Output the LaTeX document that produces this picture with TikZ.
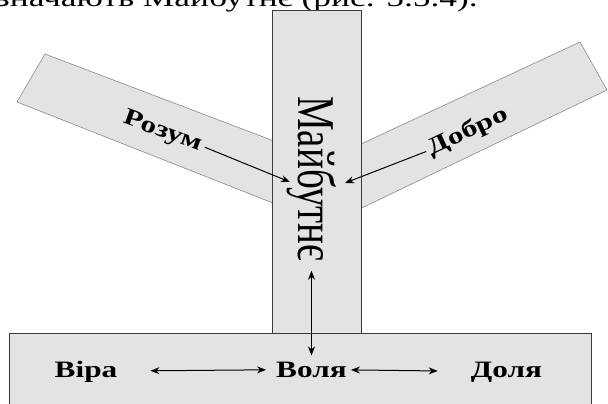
\documentclass[tikz,border=0pt]{standalone}
\usepackage{fontspec}
\setmainfont{Liberation Serif}
\usepackage{xcolor}
\usepackage{tikz}
\usetikzlibrary{arrows.meta}
\usetikzlibrary{positioning}

\definecolor{barfill}{HTML}{E3E3E3}
\definecolor{baredge}{HTML}{3A3A3A}
\definecolor{armedge}{HTML}{8A8A8A}

\begin{document}
\begin{tikzpicture}[
    x=1pt, y=-1pt,
    lbl/.style={font=\fontsize{23.5}{28}\selectfont\bfseries, inner sep=3pt},
    arm/.style={fill=barfill, draw=armedge, line width=0.6pt},
    bar/.style={fill=barfill, draw=baredge, line width=1pt},
    arr/.style={-{Stealth[length=9pt,width=7pt]}, line width=1pt},
    dblarr/.style={{Stealth[length=9pt,width=7pt]}-{Stealth[length=9pt,width=7pt]}, line width=1pt},
  ]

  \useasboundingbox (0,0) rectangle (608,404);
  \clip (0,0) rectangle (608,404);

  % line of text cut off by the crop
  \node[anchor=base east, inner sep=0pt, font=\fontsize{26}{30}\selectfont] (cap) at (478,7)
    {\scalebox{1.36}[1]{визначають Майбутнє (рис. 5.5.4).}};

  % arms behind the post
  \draw[arm] (45,54) -- (17,102) -- (316,220) -- (316,157) -- cycle;
  \draw[arm] (580,42) -- (607,90) -- (316,230) -- (316,165) -- cycle;

  \draw[bar] (272,11) rectangle (361,333);
  \draw[bar] (9,333) rectangle (591,420);

  \node[anchor=base west, rotate=-90, inner sep=0pt, font=\fontsize{39}{45}\selectfont] (maib) at (298,96)
    {\scalebox{1}[1.36]{Майбутнє}};

  \node[lbl, rotate=-20] (rozum) at (163,132) {\scalebox{1.33}[1]{Розум}};
  \node[lbl, rotate=25]  (dobro) at (468,132) {\scalebox{1.33}[1]{Добро}};

  \node[lbl, anchor=base] (vira)  at (86,377)    {\scalebox{1.33}[1]{Віра}};
  \node[lbl, anchor=base] (volya) at (311.5,377) {\scalebox{1.33}[1]{Воля}};
  \node[lbl, anchor=base] (dolya) at (506.5,377) {\scalebox{1.33}[1]{Доля}};

  \coordinate (inL) at (290,182);
  \coordinate (inR) at (345,183);

  \draw[arr] (rozum.east) -- (inL);
  \draw[arr] (dobro.west) -- (inR);

  \draw[dblarr, shorten <=3pt] (volya.north) -- ([yshift=-9pt]volya.north |- maib.east);
  \draw[dblarr, shorten <=30pt, shorten >=7pt] (vira) -- (volya);
  \draw[dblarr, shorten <=1pt, shorten >=30pt] (volya) -- (dolya);

\end{tikzpicture}
\end{document}
